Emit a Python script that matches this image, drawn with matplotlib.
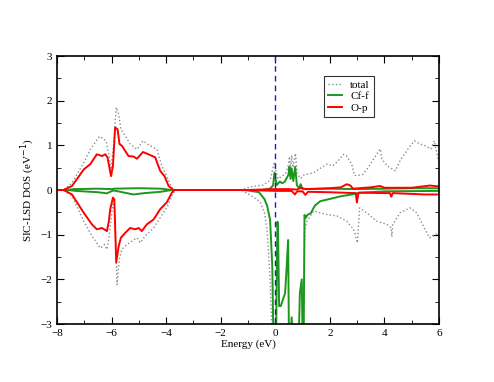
import matplotlib
matplotlib.use("Agg")
import matplotlib.pyplot as plt
from matplotlib.ticker import MultipleLocator

plt.rcParams['font.family'] = ['Liberation Serif', 'DejaVu Serif']

# total DOS, spin up / spin down
tot_up_e = [-8.0, -7.76, -7.45, -7.02, -6.78, -6.44, -6.29, -6.2, -6.1, -6.02, -5.93, -5.83, -5.74,
            -5.66, -5.5, -5.32, -5.07, -4.85, -4.59, -4.34, -4.16, -3.98, -3.79, -3.67, -1.23, -0.93,
            -0.44, -0.19, -0.03, 0.01, 0.1, 0.22, 0.38, 0.48, 0.52, 0.56, 0.6, 0.65, 0.71, 0.74, 0.8,
            0.93, 1.05, 1.3, 1.48, 1.6, 1.9, 2.1, 2.3, 2.5, 2.6, 2.8, 2.9, 3.0, 3.2, 3.4, 3.6, 3.8,
            3.85, 3.9, 4.1, 4.4, 4.6, 4.9, 5.1, 5.3, 5.5, 5.7, 5.83, 5.88, 6.0]
tot_up = [0, 0, 0.16, 0.61, 0.91, 1.2, 1.14, 1.1, 0.8, 0.46, 0.99, 1.85, 1.7,
          1.36, 1.21, 1.03, 0.91, 1.1, 0.99, 0.91, 0.54, 0.31, 0.05, 0, 0, 0.07,
          0.11, 0.22, 0.63, 0.45, 0.25, 0.3, 0.37, 0.56, 0.75, 0.45, 0.78, 0.5, 0.72, 0.82, 0.37,
          0.26, 0.34, 0.37, 0.41, 0.47, 0.58, 0.54, 0.65, 0.8, 0.77, 0.58, 0.33, 0.32, 0.35, 0.5, 0.69, 0.88,
          0.92, 0.7, 0.54, 0.43, 0.69, 0.95, 1.1, 1.03, 0.99, 0.92, 1.1, 0.95, 0.6]

tot_dn_e = [-8.0, -7.76, -7.45, -7.02, -6.72, -6.41, -6.26, -6.17, -6.09, -6.02, -5.95, -5.89, -5.8,
            -5.72, -5.62, -5.44, -5.26, -5.07, -4.95, -4.77, -4.46, -4.22, -3.98, -3.79, -3.67, -1.25,
            -0.93, -0.56, -0.4, -0.3, -0.19, -0.12, 1.03, 1.08, 1.16, 1.4, 1.9, 2.26, 2.62, 2.87, 3.01,
            3.09, 3.35, 3.72, 4.09, 4.25, 4.27, 4.3, 4.57, 4.94, 5.18, 5.43, 5.65, 5.79, 6.0]
tot_dn = [0, 0, -0.13, -0.7, -1.03, -1.3, -1.22, -1.33, -1.03, -0.66, -0.32, -0.43, -2.12,
          -1.56, -1.33, -1.22, -1.15, -1.07, -1.18, -1.03, -0.85, -0.62, -0.4, -0.13, 0, 0,
          -0.11, -0.26, -0.5, -0.9, -2.0, -3.3, -3.3, -0.9, -0.7, -0.47, -0.55, -0.58, -0.7, -0.88, -1.18,
          -0.4, -0.51, -0.7, -0.77, -0.85, -1.05, -0.78, -0.51, -0.4, -0.51, -0.81, -1.07, -1.03, -0.96]

# Cf-f
cf_up_e = [-8.0, -7.6, -7.4, -6.5, -6.0, -5.9, -5.0, -4.2, -3.8, -0.5, -0.2, -0.08, -0.03, 0.05, 0.17,
           0.25, 0.35, 0.48, 0.52, 0.56, 0.6, 0.66, 0.73, 0.79, 0.87, 0.93, 0.99, 1.11, 2.0, 3.0, 4.0,
           5.0, 6.0]
cf_up = [0, 0, 0.02, 0.03, 0.02, 0.03, 0.04, 0.03, 0, 0, 0.03, 0.1, 0.39, 0.11, 0.19,
         0.15, 0.19, 0.34, 0.52, 0.25, 0.48, 0.2, 0.52, 0.11, 0.04, 0.13, 0.03, 0.02, 0.03, 0.02, 0.03,
         0.04, 0.04]

cf_dn_e = [-8.0, -7.6, -7.3, -6.5, -6.17, -6.05, -5.93, -5.6, -5.2, -4.8, -4.2, -3.8, -1.2, -1.0,
           -0.6, -0.4, -0.3, -0.19, -0.11, -0.07, 0.03, 0.06, 0.08, 0.1, 0.14, 0.2, 0.28, 0.36, 0.41,
           0.47, 0.5, 0.56, 0.6, 0.64, 0.86, 0.9, 0.97, 1.0, 1.04, 1.07, 1.12, 1.17, 1.3, 1.45, 1.65,
           2.0, 2.4, 2.8, 3.1, 4.0, 6.0]
cf_dn = [0, 0, -0.02, -0.05, -0.075, -0.04, -0.01, -0.05, -0.1, -0.07, -0.04, 0, 0, -0.01,
         -0.05, -0.2, -0.35, -0.67, -1.72, -3.3, -3.3, -1.5, -0.71, -0.9, -2.6, -2.6, -2.45, -2.31, -1.79,
         -1.12, -3.3, -3.3, -2.85, -3.3, -3.3, -2.31, -2.0, -3.3, -3.3, -0.56, -0.62, -0.56, -0.52, -0.35, -0.25,
         -0.2, -0.14, -0.1, -0.06, -0.03, -0.02]

# O-p
op_up_e = [-8.0, -7.76, -7.45, -7.02, -6.78, -6.54, -6.35, -6.23, -6.15, -6.02, -5.95, -5.87, -5.78,
           -5.71, -5.62, -5.38, -5.2, -5.07, -4.85, -4.65, -4.4, -4.22, -4.06, -3.91, -3.73, -1.0, -0.5,
           0.0, 0.5, 0.8, 0.93, 1.1, 2.0, 2.4, 2.62, 2.75, 2.85, 3.5, 3.84, 4.0, 5.0, 5.67, 6.0]
op_up = [0, 0, 0.09, 0.46, 0.58, 0.8, 0.76, 0.8, 0.73, 0.31, 0.54, 1.4, 1.36,
         1.03, 0.99, 0.76, 0.75, 0.7, 0.85, 0.8, 0.73, 0.43, 0.31, 0.09, 0, 0, 0.01,
         0.02, 0.02, 0.01, 0.05, 0.02, 0.04, 0.06, 0.13, 0.1, 0.03, 0.06, 0.09, 0.05, 0.05, 0.1, 0.08]

op_dn_e = [-8.0, -7.76, -7.45, -7.02, -6.72, -6.54, -6.35, -6.17, -6.1, -6.05, -5.95, -5.9, -5.83,
           -5.74, -5.66, -5.5, -5.32, -5.13, -5.01, -4.89, -4.71, -4.46, -4.22, -3.98, -3.79, -3.7,
           -1.0, -0.5, 0.0, 0.6, 0.72, 0.8, 1.0, 1.1, 1.2, 2.0, 2.95, 2.99, 3.05, 4.2, 4.25, 4.3, 5.5, 6.0]
op_dn = [0, 0, -0.1, -0.51, -0.77, -0.88, -0.85, -0.92, -0.7, -0.43, -0.17, -0.21, -1.62,
         -1.26, -1.07, -0.96, -0.85, -0.88, -0.85, -0.92, -0.77, -0.66, -0.43, -0.28, -0.06, 0,
         0, -0.01, -0.02, -0.02, -0.1, -0.03, -0.03, -0.11, -0.04, -0.05, -0.07, -0.28, -0.06, -0.07, -0.15,
         -0.07, -0.1, -0.1]

fig = plt.figure(figsize=(4.94, 3.82), dpi=100)
ax = fig.add_axes([0.1154, 0.1518, 0.7733, 0.7016])

ax.plot(tot_up_e, tot_up, color='#8c8c8c', ls=':', lw=1.0, label='total')
ax.plot(tot_dn_e, tot_dn, color='#8c8c8c', ls=':', lw=1.0)
ax.plot(cf_up_e, cf_up, color='#1e961e', lw=1.4, label='Cf-f')
ax.plot(cf_dn_e, cf_dn, color='#1e961e', lw=1.4)
ax.plot(op_up_e, op_up, color='red', lw=1.4, label='O-p')
ax.plot(op_dn_e, op_dn, color='red', lw=1.4)
ax.axvline(0, color='#1a1acc', ls=(0, (4, 3)), lw=1.0)

ax.set_xlim(-8, 6)
ax.set_ylim(-3, 3)
ax.xaxis.set_major_locator(MultipleLocator(2))
ax.xaxis.set_minor_locator(MultipleLocator(1))
ax.yaxis.set_major_locator(MultipleLocator(1))
ax.yaxis.set_minor_locator(MultipleLocator(0.5))
ax.tick_params(which='both', direction='in', top=True, right=True, labelsize=8)
ax.tick_params(which='major', length=5)
ax.tick_params(which='minor', length=3)
for s in ax.spines.values():
    s.set_linewidth(1.2)

ax.set_xlabel('Energy (eV)', fontsize=8, labelpad=1)
ax.set_ylabel('SIC-LSD DOS (eV$^{-1}$)', fontsize=8, labelpad=2)

leg = ax.legend(loc='upper left', bbox_to_anchor=(0.699, 0.925), fontsize=8, frameon=True,
                fancybox=False, edgecolor='black', handlelength=1.3, borderpad=0.35,
                labelspacing=0.15, handletextpad=0.7, borderaxespad=0)
leg.get_frame().set_linewidth(0.8)

fig.savefig('out.png', dpi=100)
